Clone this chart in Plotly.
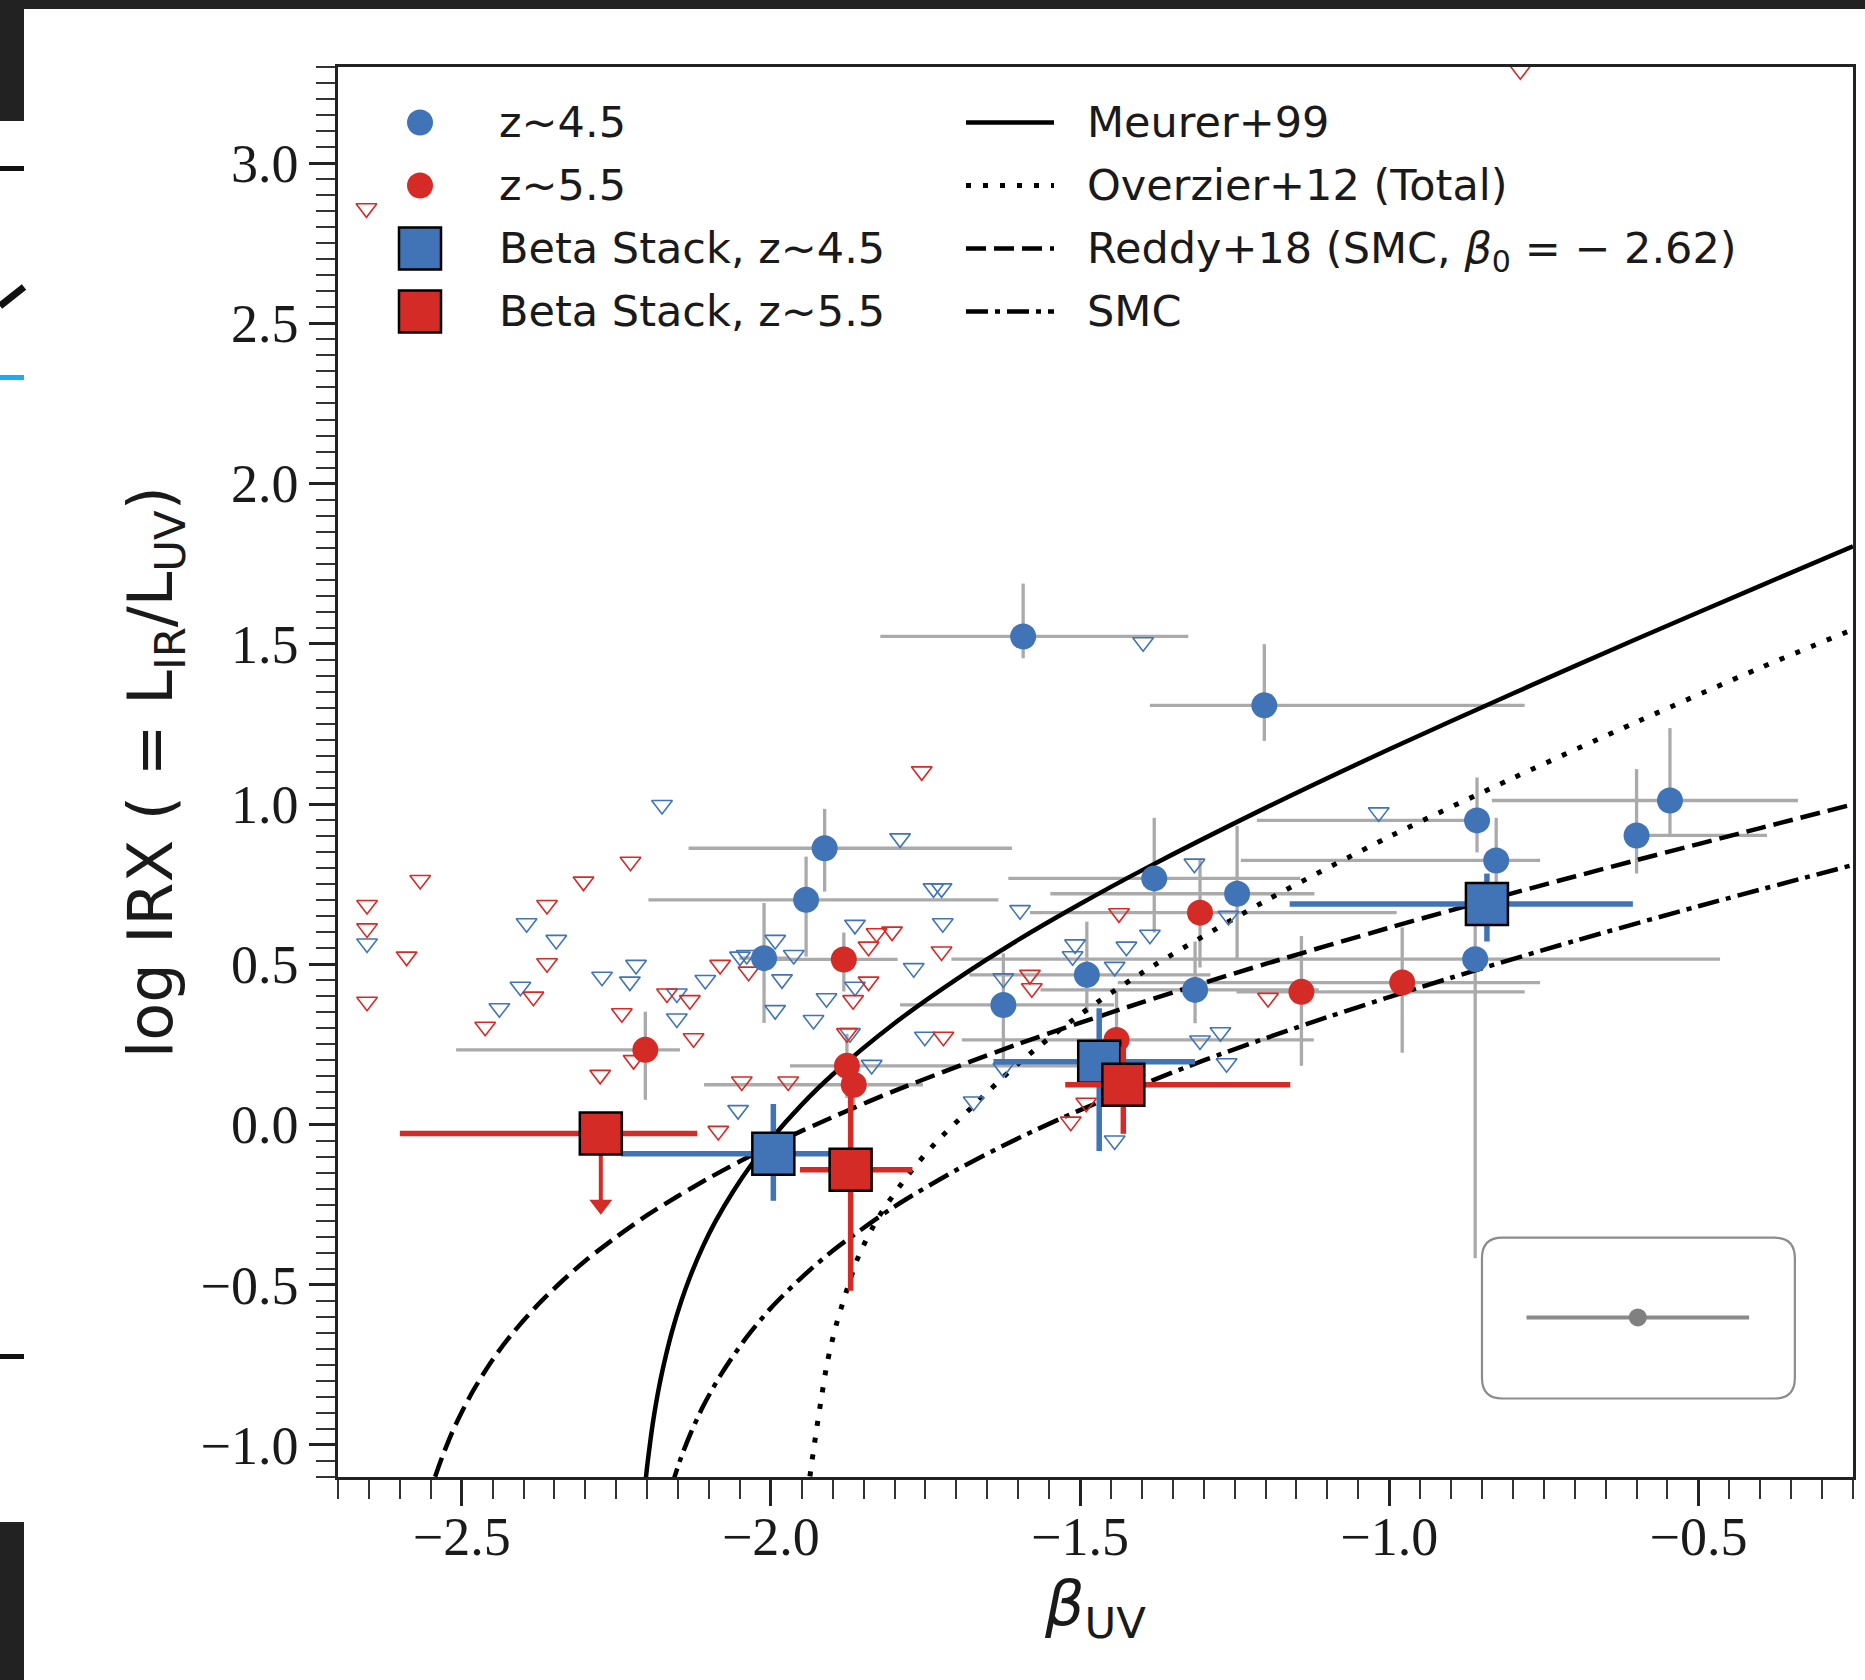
import plotly.graph_objects as go

# ---------------- data ----------------
# z~4.5 detections
det45_beta = [-1.592, -1.202, -1.913, -1.943, -2.011, -1.624, -1.489, -1.380, -1.246, -1.314, -0.858, -0.827, -0.861, -0.600, -0.546]
det45_irx = [1.523, 1.308, 0.862, 0.701, 0.519, 0.373, 0.467, 0.768, 0.720, 0.420, 0.949, 0.824, 0.516, 0.902, 1.011]
det45_beta_lo = [0.231, 0.185, 0.220, 0.255, 0.040, 0.167, 0.190, 0.236, 0.302, 0.250, 0.356, 0.413, 0.847, 0.020, 0.288]
det45_beta_hi = [0.267, 0.421, 0.303, 0.311, 0.040, 0.179, 0.200, 0.236, 0.125, 0.200, 0.020, 0.071, 0.396, 0.211, 0.207]
det45_irx_lo = [0.068, 0.111, 0.135, 0.177, 0.202, 0.192, 0.120, 0.169, 0.207, 0.104, 0.100, 0.120, 0.933, 0.119, 0.114]
det45_irx_hi = [0.165, 0.191, 0.123, 0.135, 0.172, 0.161, 0.166, 0.189, 0.212, 0.151, 0.134, 0.133, 0.150, 0.207, 0.226]

# z~5.5 detections
det55_beta = [-2.203, -1.882, -1.877, -1.866, -1.306, -1.142, -0.979, -1.441]
det55_irx = [0.233, 0.515, 0.183, 0.124, 0.661, 0.414, 0.443, 0.264]
det55_beta_lo = [0.306, 0.115, 0.092, 0.242, 0.275, 0.105, 0.460, 0.250]
det55_beta_hi = [0.056, 0.087, 0.450, 0.112, 0.318, 0.361, 0.223, 0.319]
det55_irx_lo = [0.156, 0.100, 0.100, 0.080, 0.171, 0.231, 0.219, 0.156]
det55_irx_hi = [0.119, 0.084, 0.100, 0.080, 0.165, 0.174, 0.172, 0.156]

# upper limits (open triangles)
ul45_beta = [-2.176, -2.653, -2.395, -2.347, -2.405, -2.439, -2.273, -2.218, -2.228, -2.152, -2.152, -2.106,
             -2.050, -2.039, -1.993, -1.963, -1.982, -1.910, -1.931, -1.993, -1.864, -1.872, -1.837, -1.864,
             -1.791, -1.737, -1.724, -1.722, -1.769, -1.751, -2.053, -1.672, -1.624, -1.597, -1.398, -1.315,
             -1.260, -1.387, -1.508, -1.425, -1.512, -1.444, -1.306, -1.273, -1.263, -1.444, -1.017, -1.624]
ul45_irx = [0.997, 0.565, 0.628, 0.576, 0.430, 0.363, 0.461, 0.498, 0.446, 0.409, 0.331, 0.451,
            0.524, 0.529, 0.576, 0.529, 0.453, 0.394, 0.326, 0.357, 0.430, 0.285, 0.186, 0.623,
            0.893, 0.737, 0.737, 0.628, 0.488, 0.274, 0.045, 0.072, 0.456, 0.669, 1.505, 0.814,
            0.651, 0.592, 0.562, 0.555, 0.525, 0.492, 0.262, 0.288, 0.191, -0.050, 0.974, 0.176]
ul55_beta = [-2.654, -0.788, -2.653, -2.653, -2.653, -2.567, -2.589, -2.362, -2.303, -2.227, -2.362, -2.384,
             -2.462, -2.241, -2.168, -2.131, -2.125, -2.082, -2.276, -1.756, -1.829, -1.804, -1.842, -1.724,
             -2.036, -1.842, -1.867, -1.877, -1.721, -1.581, -1.578, -2.047, -1.972, -2.085, -1.437, -1.196,
             -1.490, -1.515, -2.222]
ul55_irx = [2.859, 3.290, 0.685, 0.612, 0.383, 0.763, 0.524, 0.685, 0.758, 0.820, 0.503, 0.399,
            0.305, 0.347, 0.409, 0.388, 0.269, 0.498, 0.155, 1.102, 0.597, 0.602, 0.555, 0.540,
            0.477, 0.446, 0.388, 0.285, 0.274, 0.467, 0.425, 0.134, 0.134, -0.020, 0.659, 0.395,
            0.068, 0.009, 0.201]

# beta stacks
stack45_beta = [-1.996, -1.469, -0.842]
stack45_irx = [-0.091, 0.196, 0.688]
stack45_beta_lo = [0.246, 0.171, 0.319]
stack45_beta_hi = [0.098, 0.155, 0.236]
stack45_irx_lo = [0.147, 0.279, 0.117]
stack45_irx_hi = [0.155, 0.167, 0.095]

stack55_beta = [-2.275, -1.871, -1.430]
stack55_irx = [-0.028, -0.141, 0.124]
stack55_beta_lo = [0.325, 0.082, 0.094]
stack55_beta_hi = [0.156, 0.100, 0.270]
stack55_irx_lo = [0.0, 0.378, 0.153]
stack55_irx_hi = [0.0, 0.230, 0.119]
stack55_limit_tip = [-0.285]   # upper-limit arrow of first z~5.5 stack

# relations
meurer_beta = [-2.2065, -2.204, -2.200, -2.195, -2.190, -2.180, -2.170, -2.160, -2.145, -2.130, -2.110, -2.090,
               -2.060, -2.030, -2.000, -1.950, -1.900, -1.800, -1.700, -1.600, -1.500, -1.400, -1.200, -1.000,
               -0.800, -0.600, -0.400, -0.250]
meurer_irx = [-1.192, -1.139, -1.066, -0.989, -0.921, -0.811, -0.723, -0.647, -0.552, -0.472, -0.381, -0.304,
              -0.206, -0.121, -0.046, 0.062, 0.156, 0.316, 0.453, 0.576, 0.688, 0.793, 0.988, 1.171,
              1.345, 1.515, 1.681, 1.804]
overzier_beta = [-1.941, -1.937, -1.932, -1.926, -1.918, -1.909, -1.895, -1.881, -1.858, -1.826, -1.779, -1.733,
                 -1.677, -1.600, -1.500, -1.400, -1.200, -1.000, -0.800, -0.600, -0.400, -0.250]
overzier_irx = [-1.150, -1.100, -1.030, -0.950, -0.850, -0.745, -0.630, -0.540, -0.410, -0.290, -0.160, -0.056,
                0.050, 0.190, 0.343, 0.473, 0.698, 0.898, 1.081, 1.256, 1.425, 1.545]
reddy_beta = [-2.556, -2.543, -2.530, -2.515, -2.500, -2.480, -2.450, -2.420, -2.380, -2.340, -2.300, -2.250,
              -2.200, -2.150, -2.100, -2.050, -2.000, -1.950, -1.900, -1.800, -1.600, -1.400, -1.200, -1.000,
              -0.800, -0.600, -0.400, -0.250]
reddy_irx = [-1.183, -1.100, -1.030, -0.959, -0.898, -0.826, -0.734, -0.657, -0.569, -0.493, -0.425, -0.351,
             -0.283, -0.223, -0.167, -0.115, -0.066, -0.020, 0.023, 0.105, 0.251, 0.381, 0.501, 0.614,
             0.722, 0.825, 0.925, 0.999]
smc_beta = [-2.162, -2.156, -2.145, -2.130, -2.110, -2.080, -2.040, -2.000, -1.950, -1.900, -1.800, -1.700,
            -1.600, -1.500, -1.300, -1.100, -0.900, -0.700, -0.500, -0.250]
smc_irx = [-1.139, -1.101, -1.038, -0.965, -0.881, -0.778, -0.666, -0.573, -0.477, -0.394, -0.256, -0.142,
           -0.043, 0.045, 0.200, 0.335, 0.458, 0.573, 0.681, 0.810]

# representative error bar in the lower-right box
sample_beta = [-0.598]
sample_irx = [-0.602]
sample_err = [0.180]

legend_markers = ["z~4.5", "z~5.5", "Beta Stack, z~4.5", "Beta Stack, z~5.5"]
legend_lines = ["Meurer+99", "Overzier+12 (Total)",
                "Reddy+18 (SMC, <i>β</i><sub>0</sub> = − 2.62)", "SMC"]

# ---------------- styling ----------------
BLUE = "#4174B7"
RED = "#D42B27"
GREY = "#AAAAAA"
INK = "#1a1a1a"
SANS = "DejaVu Sans"
SERIF = "Liberation Serif"

W, H = 1865, 1680
L, R, T, B = 338, 1853, 67, 1477   # plot area in pixels


def px(x):
    return (x - L) / (R - L)


def py(y):
    return (B - y) / (B - T)


LW = 4.5
DASHES = {"solid": "solid", "dot": "5px,12px", "dash": "20px,8px", "dashdot": "22px,7px,5px,7px"}
DOT_LW = 5

fig = go.Figure()


def err(arr_hi, arr_lo, color, thick):
    return dict(type="data", symmetric=False, array=arr_hi, arrayminus=arr_lo,
                color=color, thickness=thick, width=0)


# grey error bars (drawn first, beneath everything)
for bx, iy, bl, bh, il, ih in [
    (det45_beta, det45_irx, det45_beta_lo, det45_beta_hi, det45_irx_lo, det45_irx_hi),
    (det55_beta, det55_irx, det55_beta_lo, det55_beta_hi, det55_irx_lo, det55_irx_hi),
]:
    fig.add_trace(go.Scatter(x=bx, y=iy, mode="markers",
                             marker=dict(size=2, opacity=0),
                             error_x=err(bh, bl, GREY, 3.3),
                             error_y=err(ih, il, GREY, 3.3),
                             hoverinfo="skip", showlegend=False))

# relation curves
for bx, iy, dash in [(meurer_beta, meurer_irx, "solid"), (overzier_beta, overzier_irx, "dot"),
                     (reddy_beta, reddy_irx, "dash"), (smc_beta, smc_irx, "dashdot")]:
    fig.add_trace(go.Scatter(x=bx, y=iy, mode="lines",
                             line=dict(color="black", width=DOT_LW if dash == "dot" else LW,
                                       dash=DASHES[dash], shape="spline", smoothing=0.8),
                             hoverinfo="skip", showlegend=False))

# upper limits
fig.add_trace(go.Scatter(x=ul45_beta, y=ul45_irx, mode="markers",
                         marker=dict(symbol="triangle-down-open", size=18, color=BLUE,
                                     line=dict(width=1.6, color=BLUE)),
                         showlegend=False))
fig.add_trace(go.Scatter(x=ul55_beta, y=ul55_irx, mode="markers",
                         marker=dict(symbol="triangle-down-open", size=18, color=RED,
                                     line=dict(width=1.6, color=RED)),
                         showlegend=False))

# detections
fig.add_trace(go.Scatter(x=det45_beta, y=det45_irx, mode="markers",
                         marker=dict(symbol="circle", size=26, color=BLUE, line=dict(width=0)),
                         showlegend=False))
fig.add_trace(go.Scatter(x=det55_beta, y=det55_irx, mode="markers",
                         marker=dict(symbol="circle", size=26, color=RED, line=dict(width=0)),
                         showlegend=False))

# stacks
fig.add_trace(go.Scatter(x=stack45_beta, y=stack45_irx, mode="markers",
                         marker=dict(symbol="square", size=42, color=BLUE, line=dict(width=2.5, color="black")),
                         error_x=err(stack45_beta_hi, stack45_beta_lo, BLUE, 5.5),
                         error_y=err(stack45_irx_hi, stack45_irx_lo, BLUE, 5.5),
                         showlegend=False))
# upper-limit arrow of first z~5.5 stack
arrow_head_offset = 11 / (B - T) * 4.4   # 11 px expressed in IRX units
fig.add_trace(go.Scatter(x=[stack55_beta[0], stack55_beta[0]],
                         y=[stack55_irx[0], stack55_limit_tip[0] + arrow_head_offset],
                         mode="lines", line=dict(color=RED, width=4),
                         hoverinfo="skip", showlegend=False))
fig.add_trace(go.Scatter(x=[stack55_beta[0]], y=[stack55_limit_tip[0] + arrow_head_offset],
                         mode="markers",
                         marker=dict(symbol="triangle-down", size=20, color=RED, line=dict(width=0)),
                         hoverinfo="skip", showlegend=False))
fig.add_trace(go.Scatter(x=stack55_beta, y=stack55_irx, mode="markers",
                         marker=dict(symbol="square", size=42, color=RED, line=dict(width=2.5, color="black")),
                         error_x=err(stack55_beta_hi, stack55_beta_lo, RED, 5.5),
                         error_y=err(stack55_irx_hi, stack55_irx_lo, RED, 5.5),
                         showlegend=False))

# representative error bar sample
fig.add_trace(go.Scatter(x=sample_beta, y=sample_irx, mode="markers",
                         marker=dict(symbol="circle", size=18, color="#808080"),
                         error_x=dict(type="data", array=sample_err, color="#8a8a8a", thickness=4, width=0),
                         hoverinfo="skip", showlegend=False))

# ---------------- manual legend (overlay axes in plot-fraction units) ----------------
rows = [122.5, 185.5, 248.6, 311.6]
leg_styles = [
    dict(symbol="circle", size=26, color=BLUE, line=dict(width=0)),
    dict(symbol="circle", size=26, color=RED, line=dict(width=0)),
    dict(symbol="square", size=42, color=BLUE, line=dict(width=2.5, color="black")),
    dict(symbol="square", size=42, color=RED, line=dict(width=2.5, color="black")),
]
for r, st in zip(rows, leg_styles):
    fig.add_trace(go.Scatter(x=[px(420)], y=[py(r)], xaxis="x2", yaxis="y2", mode="markers",
                             marker=st, hoverinfo="skip", showlegend=False))
for r, dash in zip(rows, ["solid", "dot", "dash", "dashdot"]):
    fig.add_trace(go.Scatter(x=[px(966), px(1054)], y=[py(r), py(r)], xaxis="x2", yaxis="y2",
                             mode="lines",
                             line=dict(color="black", width=DOT_LW if dash == "dot" else LW, dash=DASHES[dash]),
                             hoverinfo="skip", showlegend=False))

# legend labels as text traces
text_rows = [py(r + 4) for r in rows]
fig.add_trace(go.Scatter(x=[px(499)] * 4, y=text_rows, xaxis="x2", yaxis="y2",
                         mode="text", text=legend_markers, textposition="middle right",
                         textfont=dict(family=SANS, size=43, color=INK),
                         hoverinfo="skip", showlegend=False))
fig.add_trace(go.Scatter(x=[px(1087)] * 4, y=text_rows, xaxis="x2", yaxis="y2",
                         mode="text", text=legend_lines, textposition="middle right",
                         textfont=dict(family=SANS, size=43, color=INK),
                         hoverinfo="skip", showlegend=False))

# ---------------- shapes ----------------
shapes = []
# rounded box around the error-bar sample
x0, x1, y0, y1 = -0.850, -0.344, -0.855, -0.353
rx, ry = 0.033, 0.064
path = (f"M {x0+rx},{y1} L {x1-rx},{y1} Q {x1},{y1} {x1},{y1-ry} L {x1},{y0+ry} Q {x1},{y0} {x1-rx},{y0} "
        f"L {x0+rx},{y0} Q {x0},{y0} {x0},{y0+ry} L {x0},{y1-ry} Q {x0},{y1} {x0+rx},{y1} Z")
shapes.append(dict(type="path", path=path, xref="x", yref="y", layer="below",
                   line=dict(color="#8c8c8c", width=2.2), fillcolor="rgba(255,255,255,0.8)"))

# dark screenshot borders / fragments of the neighbouring page
DARK = "#222222"
def rect(xa, ya, xb, yb, color):
    return dict(type="rect", xref="paper", yref="paper", x0=px(xa), x1=px(xb), y0=py(yb), y1=py(ya),
                line=dict(width=0), fillcolor=color, layer="above")

shapes += [
    rect(0, 0, W, 9, DARK),
    rect(0, 0, 24, 121, DARK),
    rect(0, 1522, 24, H, DARK),
    rect(0, 166, 24, 171, "#111111"),
    rect(0, 375, 24, 380, "#1aaef0"),
    rect(0, 1354, 24, 1359, "#111111"),
    dict(type="line", xref="paper", yref="paper", x0=px(0), y0=py(306), x1=px(24), y1=py(287),
         line=dict(color="#111111", width=7), layer="above"),
]

axis_common = dict(
    showgrid=False, zeroline=False, showline=True, linecolor="#222222", linewidth=2.5, mirror=True,
    ticks="outside", ticklen=26, tickwidth=2.5, tickcolor="#222222",
    tickfont=dict(family=SERIF, size=54, color=INK), tickformat=".1f", dtick=0.5,
)

fig.update_layout(
    width=W, height=H,
    margin=dict(l=L, r=W - R, t=T, b=H - B, autoexpand=False),
    paper_bgcolor="white", plot_bgcolor="white",
    showlegend=False,
    xaxis=dict(range=[-2.7, -0.25], tick0=-2.5, ticklabelstandoff=-16,
               minor=dict(dtick=0.05, tick0=-2.7, ticklen=19, tickwidth=1.8, tickcolor="#333333", ticks="outside"),
               title=dict(text="<i>β</i><sub>UV</sub>", font=dict(family=SANS, size=62, color=INK), standoff=10),
               **axis_common),
    yaxis=dict(range=[-1.1, 3.3], tick0=0,
               minor=dict(dtick=0.05, tick0=0, ticklen=19, tickwidth=1.8, tickcolor="#333333", ticks="outside"),
               title=dict(text="log IRX ( = L<sub>IR</sub>/L<sub>UV</sub>)",
                          font=dict(family=SANS, size=62, color=INK), standoff=8),
               **axis_common),
    xaxis2=dict(overlaying="x", range=[0, 1], visible=False, fixedrange=True),
    yaxis2=dict(overlaying="y", range=[0, 1], visible=False, fixedrange=True),
    shapes=shapes,
)

fig.write_html("out.html", config={"displayModeBar": False})
